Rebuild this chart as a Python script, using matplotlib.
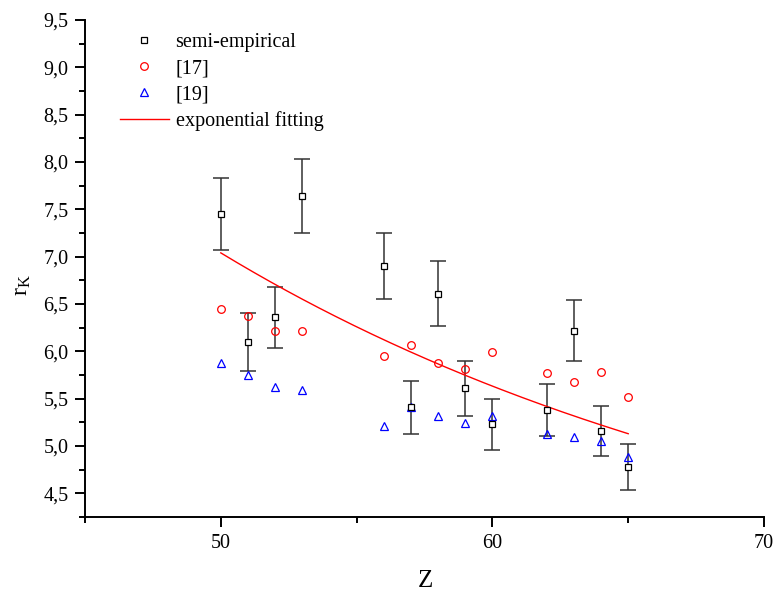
import numpy as np
import matplotlib
matplotlib.use("Agg")
import matplotlib.pyplot as plt
from matplotlib.ticker import MultipleLocator, FuncFormatter

plt.rcParams['font.family'] = ['Liberation Serif', 'DejaVu Serif']
plt.rcParams['mathtext.fontset'] = 'custom'
plt.rcParams['mathtext.rm'] = 'Liberation Serif'
plt.rcParams['mathtext.it'] = 'Liberation Serif:italic'

# Atomic number Z
z_semi = [50, 51, 52, 53, 56, 57, 58, 59, 60, 62, 63, 64, 65]
r_semi = [7.45, 6.10, 6.36, 7.64, 6.90, 5.41, 6.61, 5.61, 5.23, 5.38, 6.22, 5.16, 4.78]
r_semi_err = [0.38, 0.31, 0.32, 0.39, 0.35, 0.28, 0.34, 0.29, 0.27, 0.275, 0.32, 0.265, 0.245]

z_ref17 = [50, 51, 52, 53, 56, 57, 58, 59, 60, 62, 63, 64, 65]
r_ref17 = [6.45, 6.37, 6.21, 6.21, 5.95, 6.07, 5.88, 5.81, 5.99, 5.77, 5.68, 5.78, 5.52]

z_ref19 = [50, 51, 52, 53, 56, 57, 58, 59, 60, 62, 63, 64, 65]
r_ref19 = [5.88, 5.75, 5.62, 5.59, 5.21, 5.41, 5.32, 5.24, 5.32, 5.13, 5.10, 5.05, 4.88]

# exponential fit  r = y0 + A * exp(-(Z - 50) / t)
fit_y0 = 3.09
fit_A = 3.95
fit_t = 22.7
fit_zmin, fit_zmax = 50, 65

fig = plt.figure(figsize=(7.73, 5.93), dpi=100)
ax = fig.add_axes([85 / 773, 1 - 517 / 593, (764 - 85) / 773, (517 - 20) / 593])

ax.errorbar(z_semi, r_semi, yerr=r_semi_err, fmt='none', ecolor='#333333',
            elinewidth=1.1, capsize=5.5, capthick=1.1, zorder=2)
ax.plot(z_semi, r_semi, linestyle='none', marker='s', markersize=5,
        markerfacecolor='white', markeredgecolor='black', markeredgewidth=0.9,
        label='semi-empirical', zorder=4)
ax.plot(z_ref17, r_ref17, linestyle='none', marker='o', markersize=5.5,
        markerfacecolor='none', markeredgecolor='red', markeredgewidth=0.9,
        label='[17]', zorder=3)
ax.plot(z_ref19, r_ref19, linestyle='none', marker='^', markersize=6,
        markerfacecolor='none', markeredgecolor='blue', markeredgewidth=0.9,
        label='[19]', zorder=3)

zf = np.linspace(fit_zmin, fit_zmax, 200)
rf = fit_y0 + fit_A * np.exp(-(zf - fit_zmin) / fit_t)
ax.plot(zf, rf, color='red', linewidth=1.0, label='exponential fitting', zorder=3)

ax.set_xlim(45, 70)
ax.set_ylim(4.25, 9.5)
ax.xaxis.set_major_locator(MultipleLocator(10))
ax.xaxis.set_minor_locator(MultipleLocator(5))
ax.yaxis.set_major_locator(MultipleLocator(0.5))
ax.yaxis.set_minor_locator(MultipleLocator(0.25))
ax.yaxis.set_major_formatter(FuncFormatter(lambda v, p: f"{v:.1f}".replace('.', ',')))
ax.xaxis.set_major_formatter(FuncFormatter(lambda v, p: "" if v < 50 else f"{v:.0f}"))

for s in ('top', 'right'):
    ax.spines[s].set_visible(False)
for s in ('left', 'bottom'):
    ax.spines[s].set_linewidth(1.4)
ax.tick_params(which='major', direction='out', length=7, width=1.4, labelsize=14.5, pad=5)
ax.tick_params(which='minor', direction='out', length=4, width=1.4)

ax.set_xlabel('Z', fontsize=18)
ax.xaxis.set_label_coords(0.5007, -0.107)
ax.set_ylabel(r'r$_\mathrm{K}$', fontsize=17)
ax.yaxis.set_label_coords(-0.077, 0.467)

leg = ax.legend(loc='upper left', bbox_to_anchor=(0.04, 0.99), frameon=False,
                fontsize=14.5, handlelength=2.4, handletextpad=0.35,
                labelspacing=0.34, borderaxespad=0)

fig.savefig('out.png', dpi=100)
